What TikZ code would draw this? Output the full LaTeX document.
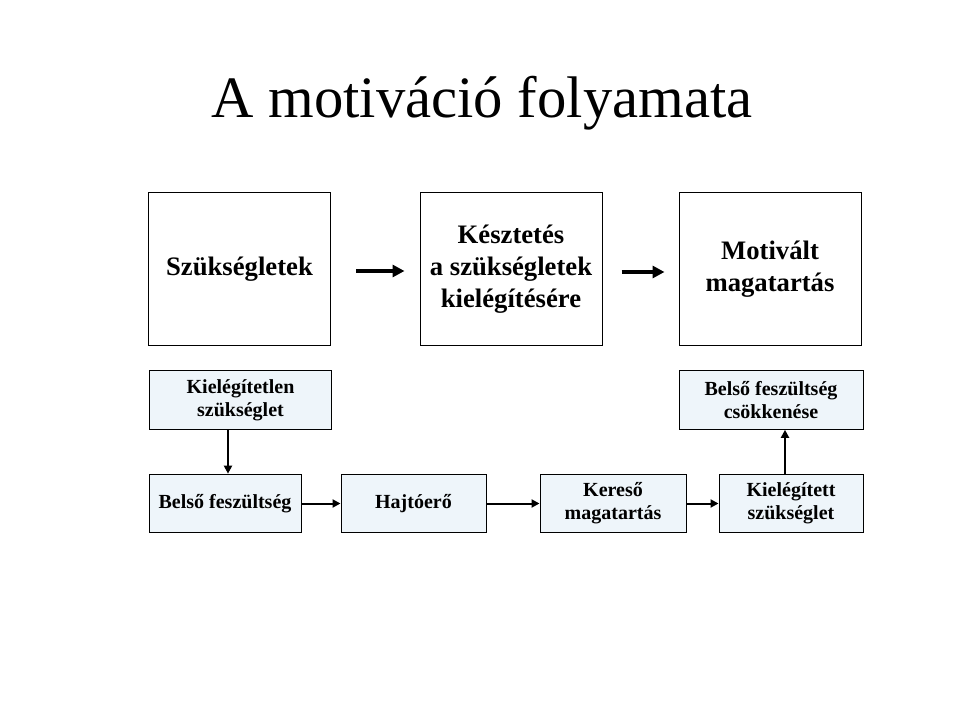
\documentclass[tikz,border=0pt]{standalone}
\usepackage{fontspec}
\setmainfont{Liberation Serif}
\usetikzlibrary{arrows.meta}
\definecolor{boxfill}{RGB}{238,245,250}
\tikzset{
  bigbox/.style={draw,line width=0.75pt,minimum width=136.5pt,minimum height=114pt,
    align=center,inner sep=0pt,font=\fontsize{20}{24}\selectfont\bfseries},
  smallbox/.style={draw,line width=0.75pt,fill=boxfill,minimum height=44pt,
    align=center,inner sep=0pt,font=\fontsize{15}{17.25}\selectfont\bfseries},
  bigarrow/.style={line width=3pt,-{Triangle[length=9pt,width=9pt]}},
  smallarrow/.style={line width=1.5pt,-{Triangle[length=6pt,width=6pt]}}
}
\begin{document}
\begin{tikzpicture}[x=0.75pt,y=-0.75pt]
        \useasboundingbox (0,0) rectangle (960,720);
        \node[anchor=base,font=\fontsize{44}{52}\selectfont] (title) at (482,118) {A motiváció folyamata};
        
        \node[bigbox] (needs) at (239.5,269) {Szükségletek};
        \node[bigbox] (urge) at (511,269) {Késztetés\\a szükségletek\\kielégítésére};
        \node[bigbox] (motiv) at (770,269) {Motivált\\magatartás};
        
        \node[smallbox,minimum width=137pt] (unmet) at (240.5,400) {Kielégítetlen\\szükséglet};
        \node[smallbox,minimum width=114pt] (tension) at (225,503.5) {Belső feszültség};
        \node[smallbox,minimum width=108.75pt] (drive) at (413.5,503.5) {Hajtóerő};
        \node[smallbox,minimum width=109.5pt] (search) at (613,503.5) {Kereső\\magatartás};
        \node[smallbox,minimum width=108pt] (met) at (791,503.5) {Kielégített\\szükséglet};
        \node[smallbox,minimum width=138pt] (relief) at (771,400) {Belső feszültség\\csökkenése};
        
        \draw[bigarrow,shorten <=18.75pt,shorten >=11.25pt] ([yshift=-1.5pt]needs.east) -- ([yshift=-1.5pt]urge.west);
        \draw[bigarrow,shorten <=14.25pt,shorten >=10.5pt] ([yshift=-2.25pt]urge.east) -- ([yshift=-2.25pt]motiv.west);
        
        \draw[smallarrow] ([xshift=2.25pt]unmet.south -| tension.north) -- ([xshift=2.25pt]tension.north);
        \draw[smallarrow] (tension) -- (drive);
        \draw[smallarrow] (drive) -- (search);
        \draw[smallarrow] (search) -- (met);
        \draw[smallarrow] ([xshift=-4.5pt]met.north) -- ([xshift=-4.5pt]met.north |- relief.south);
    \end{tikzpicture}
\end{document}
